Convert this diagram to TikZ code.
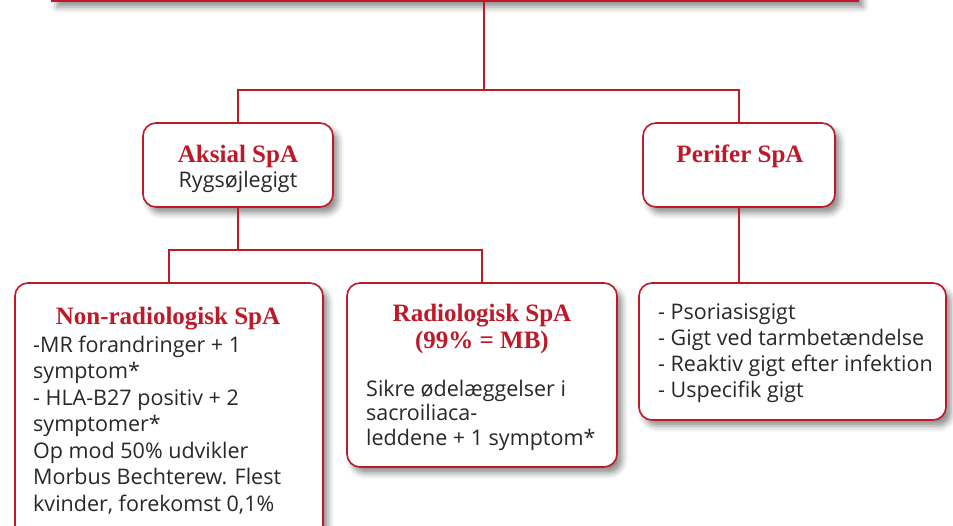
\documentclass[tikz,border=0pt]{standalone}
\usepackage{fontspec}
\setmainfont{Open Sans}
\newfontfamily\headfont{Liberation Serif}
\usetikzlibrary{shadows.blur}
\definecolor{spared}{RGB}{190,25,40}
\definecolor{bodygray}{RGB}{40,40,40}

\tikzset{
  spabox/.style={draw=spared, line width=1.6pt, rounded corners=13pt, fill=white,
    blur shadow={shadow xshift=5pt, shadow yshift=-6pt, shadow blur radius=6pt, shadow opacity=45}},
  heading/.style={font=\headfont\bfseries\fontsize{25}{27}\selectfont, text=spared, align=center, inner sep=0pt},
  bodytext/.style={font=\fontsize{21.5}{26.5}\selectfont, text=bodygray, align=left, inner sep=0pt},
  link/.style={draw=spared, line width=1.4pt}
}

\begin{document}
\begin{tikzpicture}[x=1pt, y=-1pt]
  \useasboundingbox (0,0) rectangle (953,526);

  % Top box (cut off by the page)
  \node[spabox, rounded corners=0pt, minimum width=806pt, minimum height=80pt] (top) at (455,-39) {};

  % Second row
  \node[spabox, minimum width=190pt, minimum height=84pt] (aksial) at (238,165) {};
  \node[spabox, minimum width=192pt, minimum height=84pt] (perifer) at (739,165) {};
  \node[heading, anchor=base] (aksialhead) at (238,163) {Aksial SpA};
  \node[bodytext, anchor=base] (aksialsub) at (238,188) {Rygsøjlegigt};
  \node[heading, anchor=base] (perihead) at (740,163) {Perifer SpA};

  % Third row (base anchor = last line)
  \node[spabox, minimum width=308pt, minimum height=270pt] (nonrad) at (169,418) {};
  \node[spabox, minimum width=270pt, minimum height=184pt] (radio) at (482,375) {};
  \node[spabox, minimum width=307pt, minimum height=137pt] (perlist) at (792.5,351.5) {};

  \node[heading, anchor=base] (nonradhead) at (168,325) {Non-radiologisk SpA};
  \node[bodytext, anchor=base west] (nonradtext) at (33,511) {-MR forandringer + 1\\symptom*\\- HLA-B27 positiv + 2\\symptomer*\\Op mod 50\% udvikler\\Morbus Bechterew. Flest\\kvinder, forekomst 0,1\%};
  \node[heading, anchor=base] (radiohead) at (482,349) {Radiologisk SpA\\(99\% = MB)};
  \node[bodytext, font=\fontsize{21.5}{24.2}\selectfont, anchor=base west] (radiotext) at (366,445) {Sikre ødelæggelser i\\sacroiliaca-\\leddene + 1 symptom*};
  \node[bodytext, font=\fontsize{21.5}{26}\selectfont, anchor=base west] (pertext) at (658,398) {- Psoriasisgigt\\- Gigt ved tarmbetændelse\\- Reaktiv gigt efter infektion\\- Uspecifik gigt};

  % Connectors
  \coordinate (forkone) at (484,90);
  \coordinate (forktwo) at (238,250);
  \draw[link] (forkone |- top.south) -- (forkone);
  \draw[link] (aksial.north) |- (forkone) -| (perifer.north);
  \draw[link] (aksial.south) -- (forktwo);
  \draw[link] (nonrad.north) |- (forktwo) -| (radio.north);
  \draw[link] (perifer.south) -- (perifer.south |- perlist.north);
\end{tikzpicture}
\end{document}
